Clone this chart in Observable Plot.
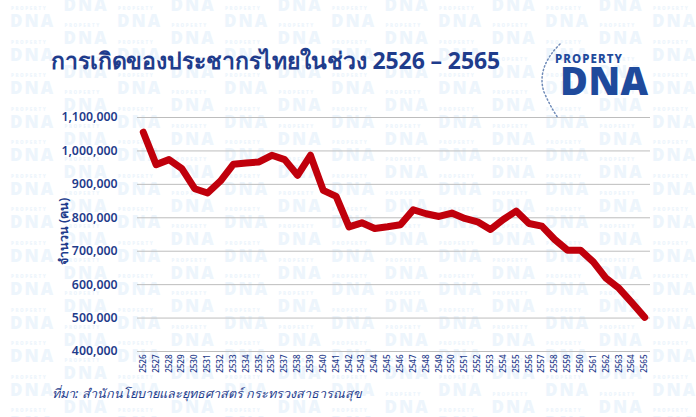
<!DOCTYPE html>
<html>
<head>
<meta charset="utf-8">
<script src="https://cdn.jsdelivr.net/npm/d3@7"></script>
<script src="https://cdn.jsdelivr.net/npm/@observablehq/plot@0.6"></script>
<style>
  html, body { margin: 0; padding: 0; }
  body { width: 696px; height: 417px; overflow: hidden; background: #fff; }
  #wrap { position: relative; width: 696px; height: 417px; }
  #bg { position: absolute; left: 0; top: 0; width: 696px; height: 417px; }
  #chart { position: absolute; left: 0; top: 0; }
  .title { position: absolute; left: 51px; top: 43px; font-family: "Noto Sans", sans-serif; font-weight: 700; font-size: 23px; color: #1f3c8c; white-space: nowrap; letter-spacing: -0.1px; }
  .caption { position: absolute; left: 52px; top: 384px; font-family: "Noto Sans", sans-serif; font-style: italic; font-weight: 500; font-size: 12.6px; color: #1f3c8c; white-space: nowrap; }
  .logo1 { position: absolute; left: 555px; top: 53px; font-family: "Noto Sans", sans-serif; font-weight: 800; font-size: 11.5px; letter-spacing: 1.1px; color: #1f4a9c; line-height: 1; }
  .logo2 { position: absolute; left: 560px; top: 61px; font-family: "Noto Sans", sans-serif; font-weight: 900; font-size: 38px; letter-spacing: 0.5px; color: #1f4a9c; line-height: 1; }
</style>
</head>
<body>
<div id="wrap">
  <svg id="bg" width="696" height="417"></svg>
  <div id="chart"></div>
  <div class="title">การเกิดของประชากรไทยในช่วง 2526 – 2565</div>
  <svg style="position:absolute;left:530px;top:40px" width="40" height="80">
    <path d="M 30 4 Q 6 28 14 52 Q 20 66 28 78" fill="none" stroke="#6f8bb8" stroke-width="1.5" stroke-dasharray="1.3 2.5" stroke-linecap="round"/>
  </svg>
  <div class="logo1">PROPERTY</div>
  <div class="logo2">DNA</div>
  <div class="caption">ที่มา: สำนักนโยบายและยุทธศาสตร์ กระทรวงสาธารณสุข</div>
</div>
<script>
// Years (Buddhist Era)
const years = [2526, 2527, 2528, 2529, 2530, 2531, 2532, 2533, 2534, 2535,
               2536, 2537, 2538, 2539, 2540, 2541, 2542, 2543, 2544, 2545,
               2546, 2547, 2548, 2549, 2550, 2551, 2552, 2553, 2554, 2555,
               2556, 2557, 2558, 2559, 2560, 2561, 2562, 2563, 2564, 2565];
// Births (persons)
const births = [1056000, 959000, 974000, 947000, 887000, 874000, 910000, 960000, 964000, 967000,
                987000, 974000, 927000, 987000, 882000, 864000, 773000, 785000, 768000, 773000,
                779000, 824000, 812000, 804000, 814000, 798000, 788000, 765000, 795000, 820000,
                783000, 775000, 735000, 703000, 703000, 668000, 619000, 589000, 546000, 502000];
const yTicks = [400000, 500000, 600000, 700000, 800000, 900000, 1000000, 1100000];
const yLabel = "จำนวน (คน)";

const data = years.map((y, i) => ({year: y, births: births[i]}));

// faint "PROPERTY DNA" watermark
(function () {
  const g = d3.select("#bg").append("g")
    .attr("fill", "#edf5fc")
    .attr("font-family", "Noto Sans, sans-serif")
    .attr("font-weight", 900);
  for (let c = 0; c < 14; c++) {
    const x = 10 + c * 53.5;
    const off = c % 2 ? 17 : 0;
    for (let r = -1; r < 13; r++) {
      const by = 27 + off + r * 33.5;
      g.append("text").attr("x", x + 1).attr("y", by - 17).attr("font-size", 4.5).attr("letter-spacing", 1.6).text("PROPERTY");
      g.append("text").attr("x", x).attr("y", by).attr("font-size", 17).attr("letter-spacing", 2).text("DNA");
    }
  }
})();

const chart = Plot.plot({
  width: 696,
  height: 417,
  marginLeft: 137,
  marginRight: 46,
  marginTop: 117,
  marginBottom: 66,
  style: {background: "transparent", color: "#1f3c8c", fontFamily: "Noto Sans, sans-serif"},
  x: {type: "point", domain: years, padding: 0.45},
  y: {domain: [400000, 1100000]},
  marks: [
    Plot.gridY(yTicks, {stroke: "#bdbdbd", strokeOpacity: 1, strokeWidth: 1}),
    Plot.axisY(yTicks, {tickFormat: d3.format(","), tickSize: 0, tickPadding: 20, label: null, fontSize: 12.3, fontWeight: 600, fill: "#1f3c8c"}),
    Plot.axisX({tickRotate: -90, tickSize: 0, tickPadding: 3, label: null, fontSize: 8, fontWeight: 500, fill: "#1f3c8c", tickFormat: d => String(d)}),
    Plot.text([yLabel], {frameAnchor: "left", textAnchor: "middle", dx: -74, dy: -3, rotate: -90, fontSize: 12.5, fontWeight: 600, fill: "#1f3c8c", text: d => d}),
    Plot.line(data, {x: "year", y: "births", stroke: "#c0000c", strokeWidth: 7, strokeLinejoin: "round", strokeLinecap: "round"})
  ]
});
document.getElementById("chart").appendChild(chart);
</script>
</body>
</html>
